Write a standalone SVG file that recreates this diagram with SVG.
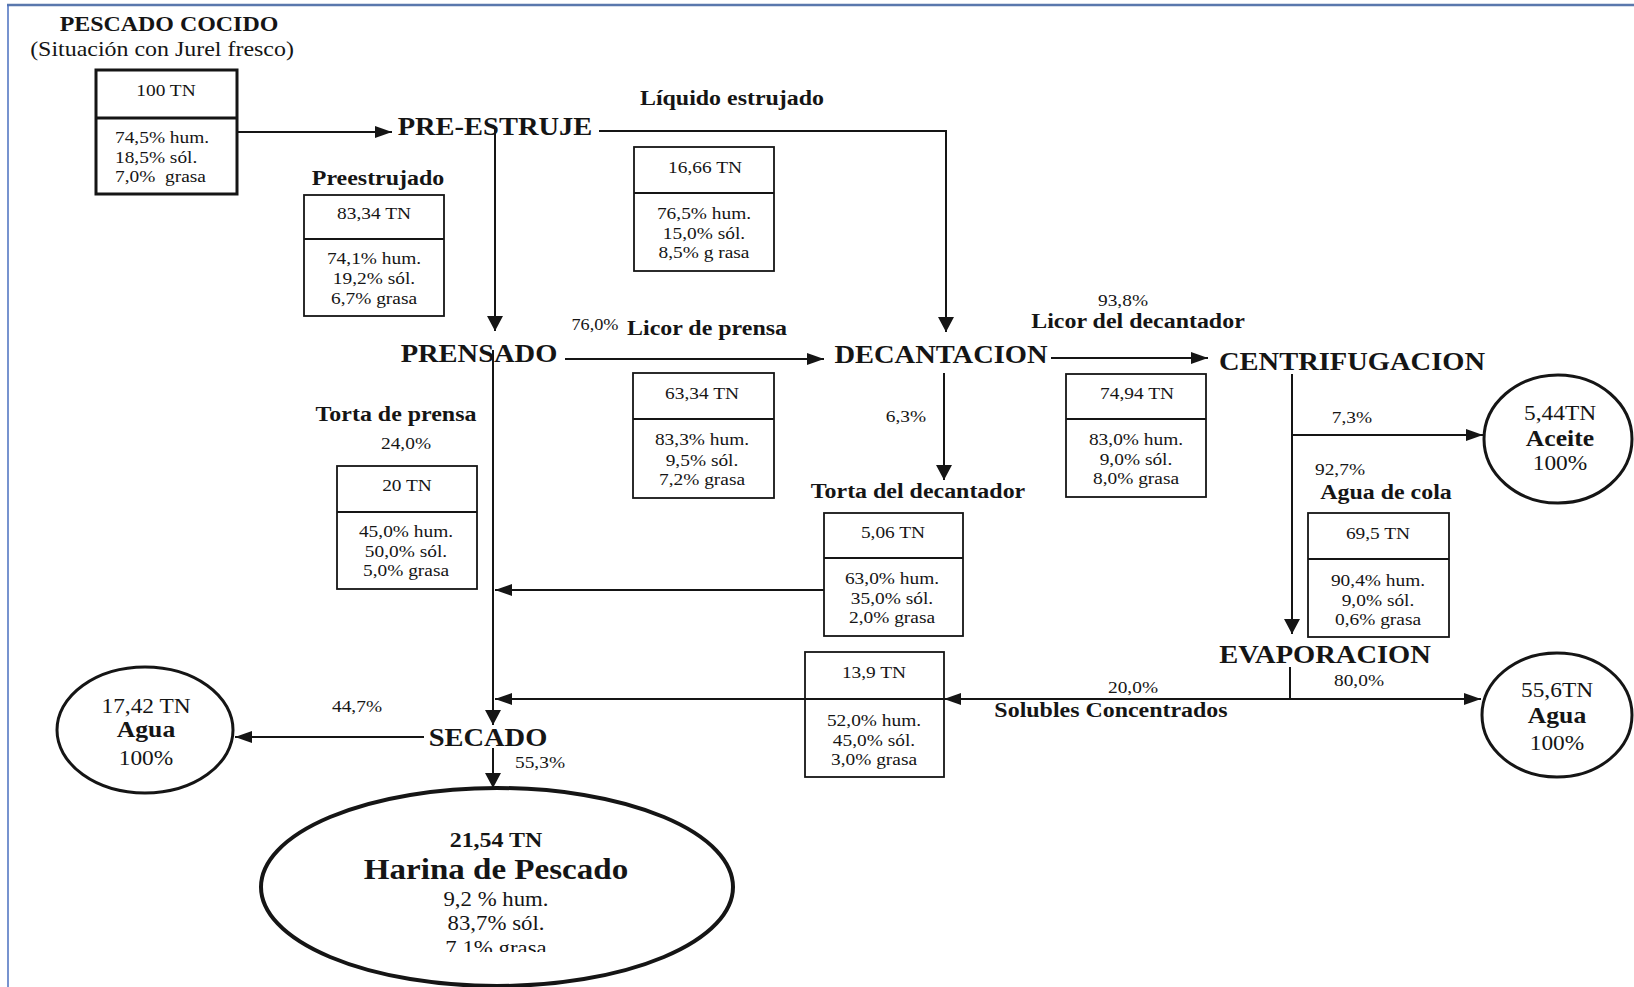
<svg xmlns="http://www.w3.org/2000/svg" width="1634" height="987" viewBox="0 0 1634 987">
<defs>
<style>
.t{font-family:"Liberation Serif","Times New Roman",serif;fill:#151515;text-anchor:middle}
.st{text-anchor:start}
.s{font-size:17px}
.p{font-size:16px}
.c{font-size:20.5px}
.e{font-size:20px}
.l{font-size:21px;font-weight:bold}
.cb{font-size:22.5px;font-weight:bold}
.h{font-size:25px;font-weight:bold}
.big{font-size:29px;font-weight:bold}
.box{fill:#fff;stroke:#151515;stroke-width:1.8}
.thick{stroke-width:3}
.div{stroke:#151515;stroke-width:1.8}
.ell{fill:#fff;stroke:#151515;stroke-width:3}
.conn{stroke:#151515;stroke-width:2;fill:none}
</style>
<marker id="ah" markerUnits="userSpaceOnUse" markerWidth="18" markerHeight="12" refX="17" refY="6" orient="auto"><path d="M0,0 L17,6 L0,12 z" fill="#151515"/></marker>
<marker id="av" markerUnits="userSpaceOnUse" markerWidth="16" markerHeight="16" refX="15" refY="8" orient="auto"><path d="M0,0 L15,8 L0,16 z" fill="#151515"/></marker>
<clipPath id="cut"><rect x="0" y="0" width="1634" height="952"/></clipPath>
</defs>
<rect x="0" y="0" width="1634" height="987" fill="#fff"/>
<line x1="7" y1="5" x2="1634" y2="5" stroke="#5a78ad" stroke-width="2.5"/>
<line x1="8" y1="5" x2="8" y2="987" stroke="#4a6fbf" stroke-width="1.5"/>

<g id="connectors">
<path class="conn" d="M237,132 H392" marker-end="url(#ah)"/>
<path class="conn" d="M599,131 H946 V332" marker-end="url(#av)"/>
<path class="conn" d="M495,128 V331" marker-end="url(#av)"/>
<path class="conn" d="M565,359 H824" marker-end="url(#ah)"/>
<path class="conn" d="M1051,358 H1208" marker-end="url(#ah)"/>
<path class="conn" d="M944,373 V480" marker-end="url(#av)"/>
<path class="conn" d="M824,590 H495" marker-end="url(#ah)"/>
<path class="conn" d="M493,350 V725" marker-end="url(#av)"/>
<path class="conn" d="M805,699 H495" marker-end="url(#ah)"/>
<path class="conn" d="M1290,667 V699"/>
<path class="conn" d="M1290,699 H944" marker-end="url(#ah)"/>
<path class="conn" d="M1290,699 H1481" marker-end="url(#ah)"/>
<path class="conn" d="M1292,374 V634" marker-end="url(#av)"/>
<path class="conn" d="M1292,435 H1483" marker-end="url(#ah)"/>
<path class="conn" d="M424,737 H235" marker-end="url(#ah)"/>
<path class="conn" d="M493,748 V788" marker-end="url(#av)"/>
<text class="t s" transform="translate(1352 423) scale(1.14 1)">7,3%</text>
<text class="t s" transform="translate(1359 686) scale(1.14 1)">80,0%</text>
<text class="t s" transform="translate(357 712) scale(1.14 1)">44,7%</text>
<text class="t s" transform="translate(540 768) scale(1.14 1)">55,3%</text>
</g>

<g id="pescado-cocido">
<text class="t l" transform="translate(169 31) scale(1.14 1)">PESCADO COCIDO</text>
<text class="t" style="font-size:21px" transform="translate(162 56) scale(1.14 1)">(Situación con Jurel fresco)</text>
<rect class="box thick" x="96" y="70" width="141" height="124"/>
<line class="div" style="stroke-width:3" x1="96" y1="118" x2="237" y2="118"/>
<text class="t s" transform="translate(166 96) scale(1.14 1)">100 TN</text>
<text class="t s st" transform="translate(115 143) scale(1.14 1)">74,5% hum.</text>
<text class="t s st" transform="translate(115 163) scale(1.14 1)">18,5% sól.</text>
<text class="t s st" transform="translate(115 182) scale(1.14 1)">7,0%&#160; grasa</text>
</g>

<g id="pre-estruje">
<text class="t h" transform="translate(495 135) scale(1.14 1)">PRE-ESTRUJE</text>
</g>

<g id="liquido-estrujado">
<text class="t l" transform="translate(732 105) scale(1.14 1)">Líquido estrujado</text>
<rect class="box" x="634" y="147" width="140" height="124"/>
<line class="div" x1="634" y1="193" x2="774" y2="193"/>
<text class="t s" transform="translate(705 173) scale(1.14 1)">16,66 TN</text>
<text class="t s" transform="translate(704 219) scale(1.14 1)">76,5% hum.</text>
<text class="t s" transform="translate(704 239) scale(1.14 1)">15,0% sól.</text>
<text class="t s" transform="translate(704 258) scale(1.14 1)">8,5% g rasa</text>
</g>

<g id="preestrujado">
<text class="t l" transform="translate(378 185) scale(1.14 1)">Preestrujado</text>
<rect class="box" x="304" y="195" width="140" height="121"/>
<line class="div" x1="304" y1="239" x2="444" y2="239"/>
<text class="t s" transform="translate(374 219) scale(1.14 1)">83,34 TN</text>
<text class="t s" transform="translate(374 264) scale(1.14 1)">74,1% hum.</text>
<text class="t s" transform="translate(374 284) scale(1.14 1)">19,2% sól.</text>
<text class="t s" transform="translate(374 304) scale(1.14 1)">6,7% grasa</text>
</g>

<g id="prensado">
<text class="t h" transform="translate(479 362) scale(1.14 1)">PRENSADO</text>
</g>

<g id="licor-prensa">
<text class="t p" transform="translate(595 330) scale(1.14 1)">76,0%</text>
<text class="t l" transform="translate(707 335) scale(1.14 1)">Licor de prensa</text>
<rect class="box" x="633" y="373" width="141" height="125"/>
<line class="div" x1="633" y1="419" x2="774" y2="419"/>
<text class="t s" transform="translate(702 399) scale(1.14 1)">63,34 TN</text>
<text class="t s" transform="translate(702 445) scale(1.14 1)">83,3% hum.</text>
<text class="t s" transform="translate(702 466) scale(1.14 1)">9,5% sól.</text>
<text class="t s" transform="translate(702 485) scale(1.14 1)">7,2% grasa</text>
</g>

<g id="decantacion">
<text class="t h" transform="translate(941 363) scale(1.14 1)">DECANTACION</text>
</g>

<g id="licor-decantador">
<text class="t s" transform="translate(1123 306) scale(1.14 1)">93,8%</text>
<text class="t l" transform="translate(1138 328) scale(1.14 1)">Licor del decantador</text>
<rect class="box" x="1066" y="374" width="140" height="123"/>
<line class="div" x1="1066" y1="419" x2="1206" y2="419"/>
<text class="t s" transform="translate(1137 399) scale(1.14 1)">74,94 TN</text>
<text class="t s" transform="translate(1136 445) scale(1.14 1)">83,0% hum.</text>
<text class="t s" transform="translate(1136 465) scale(1.14 1)">9,0% sól.</text>
<text class="t s" transform="translate(1136 484) scale(1.14 1)">8,0% grasa</text>
</g>

<g id="centrifugacion">
<text class="t h" transform="translate(1352 370) scale(1.14 1)">CENTRIFUGACION</text>
</g>

<g id="aceite">
<ellipse class="ell" cx="1558" cy="439" rx="74" ry="64"/>
<text class="t c" transform="translate(1560 420) scale(1.14 1)">5,44TN</text>
<text class="t cb" transform="translate(1560 446) scale(1.14 1)">Aceite</text>
<text class="t c" transform="translate(1560 470) scale(1.14 1)">100%</text>
</g>

<g id="agua-de-cola">
<text class="t s" transform="translate(1340 475) scale(1.14 1)">92,7%</text>
<text class="t l" transform="translate(1386 499) scale(1.14 1)">Agua de cola</text>
<rect class="box" x="1308" y="513" width="141" height="124"/>
<line class="div" x1="1308" y1="559" x2="1449" y2="559"/>
<text class="t s" transform="translate(1378 539) scale(1.14 1)">69,5 TN</text>
<text class="t s" transform="translate(1378 586) scale(1.14 1)">90,4% hum.</text>
<text class="t s" transform="translate(1378 606) scale(1.14 1)">9,0% sól.</text>
<text class="t s" transform="translate(1378 625) scale(1.14 1)">0,6% grasa</text>
</g>

<g id="evaporacion">
<text class="t h" transform="translate(1325 663) scale(1.14 1)">EVAPORACION</text>
</g>

<g id="agua-evaporacion">
<ellipse class="ell" cx="1557" cy="715" rx="75" ry="62"/>
<text class="t c" transform="translate(1557 697) scale(1.14 1)">55,6TN</text>
<text class="t cb" transform="translate(1557 723) scale(1.14 1)">Agua</text>
<text class="t c" transform="translate(1557 750) scale(1.14 1)">100%</text>
</g>

<g id="solubles-concentrados">
<rect class="box" x="805" y="652" width="139" height="125"/>
<line class="div" x1="805" y1="699" x2="944" y2="699"/>
<text class="t s" transform="translate(874 678) scale(1.14 1)">13,9 TN</text>
<text class="t s" transform="translate(874 726) scale(1.14 1)">52,0% hum.</text>
<text class="t s" transform="translate(874 746) scale(1.14 1)">45,0% sól.</text>
<text class="t s" transform="translate(874 765) scale(1.14 1)">3,0% grasa</text>
<text class="t s" transform="translate(1133 693) scale(1.14 1)">20,0%</text>
<text class="t l" transform="translate(1111 717) scale(1.14 1)">Solubles Concentrados</text>
</g>

<g id="torta-prensa">
<text class="t l" transform="translate(396 421) scale(1.14 1)">Torta de prensa</text>
<text class="t s" transform="translate(406 449) scale(1.14 1)">24,0%</text>
<rect class="box" x="337" y="466" width="140" height="123"/>
<line class="div" x1="337" y1="512" x2="477" y2="512"/>
<text class="t s" transform="translate(407 491) scale(1.14 1)">20 TN</text>
<text class="t s" transform="translate(406 537) scale(1.14 1)">45,0% hum.</text>
<text class="t s" transform="translate(406 557) scale(1.14 1)">50,0% sól.</text>
<text class="t s" transform="translate(406 576) scale(1.14 1)">5,0% grasa</text>
</g>

<g id="torta-decantador">
<text class="t s" transform="translate(906 422) scale(1.14 1)">6,3%</text>
<text class="t l" transform="translate(918 498) scale(1.14 1)">Torta del decantador</text>
<rect class="box" x="824" y="513" width="139" height="123"/>
<line class="div" x1="824" y1="558" x2="963" y2="558"/>
<text class="t s" transform="translate(893 538) scale(1.14 1)">5,06 TN</text>
<text class="t s" transform="translate(892 584) scale(1.14 1)">63,0% hum.</text>
<text class="t s" transform="translate(892 604) scale(1.14 1)">35,0% sól.</text>
<text class="t s" transform="translate(892 623) scale(1.14 1)">2,0% grasa</text>
</g>

<g id="secado">
<text class="t h" transform="translate(488 746) scale(1.14 1)">SECADO</text>
</g>

<g id="agua-secado">
<ellipse class="ell" cx="145" cy="730" rx="88" ry="63"/>
<text class="t c" transform="translate(146 713) scale(1.14 1)">17,42 TN</text>
<text class="t cb" transform="translate(146 737) scale(1.14 1)">Agua</text>
<text class="t c" transform="translate(146 765) scale(1.14 1)">100%</text>
</g>

<g id="harina-de-pescado">
<ellipse class="ell" style="stroke-width:4" cx="497" cy="887" rx="236" ry="99"/>
<text class="t l" transform="translate(496 847) scale(1.14 1)">21,54 TN</text>
<text class="t big" transform="translate(496 879) scale(1.14 1)">Harina de Pescado</text>
<text class="t e" transform="translate(496 906) scale(1.14 1)">9,2 % hum.</text>
<text class="t e" transform="translate(496 930) scale(1.14 1)">83,7% sól.</text>
<g clip-path="url(#cut)">
<text class="t e" transform="translate(496 955) scale(1.14 1)">7.1% grasa</text>
</g>
</g>
</svg>
